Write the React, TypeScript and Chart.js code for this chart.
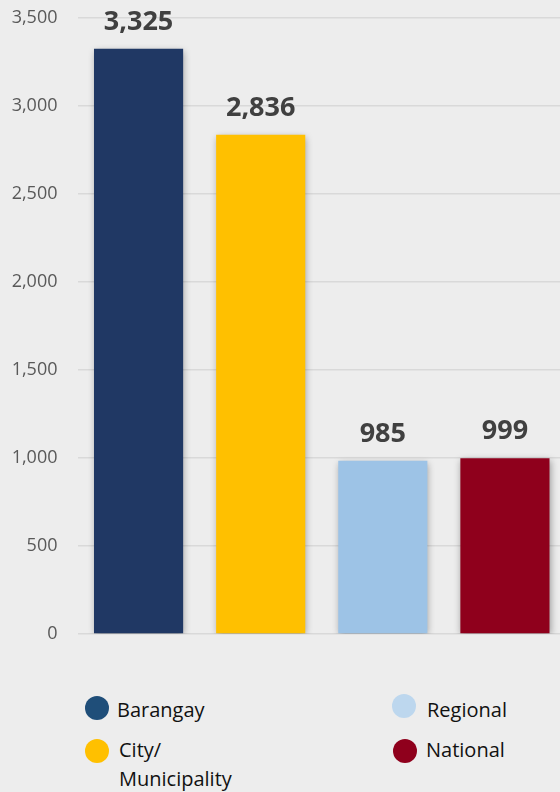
import React, { useEffect, useRef } from "react";
import { Chart, registerables } from "chart.js";

Chart.register(...registerables);

const categories = ["Barangay", "City/Municipality", "Regional", "National"];
const values = [3325, 2836, 985, 999];
const barColors = ["#203864", "#ffc000", "#9dc3e6", "#8f001c"];
const legendLabels = [["Barangay"], ["City/", "Municipality"], ["Regional"], ["National"]];
const legendColors = ["#1f4e79", "#ffc000", "#bdd7ee", "#8f001c"];
const yTicks = [0, 500, 1000, 1500, 2000, 2500, 3000, 3500];

const FONT = "'Open Sans', 'DejaVu Sans', sans-serif";

const shadowPlugin = {
  id: "barShadow",
  beforeDatasetDraw(chart: any) {
    const ctx = chart.ctx;
    ctx.save();
    ctx.shadowColor = "rgba(0,0,0,0.35)";
    ctx.shadowBlur = 7;
    ctx.shadowOffsetX = 1;
    ctx.shadowOffsetY = 2;
  },
  afterDatasetDraw(chart: any) {
    chart.ctx.restore();
  },
};

const labelPlugin = {
  id: "valueLabels",
  afterDatasetsDraw(chart: any) {
    const ctx = chart.ctx;
    const meta = chart.getDatasetMeta(0);
    ctx.save();
    ctx.font = `bold 27px ${FONT}`;
    ctx.fillStyle = "#404040";
    ctx.textAlign = "center";
    ctx.textBaseline = "alphabetic";
    meta.data.forEach((bar: any, i: number) => {
      const v = chart.data.datasets[0].data[i] as number;
      ctx.fillText(v.toLocaleString("en-US"), bar.x, bar.y - 19);
    });
    ctx.restore();
  },
};

export default function App() {
  const ref = useRef<HTMLCanvasElement>(null);
  useEffect(() => {
    if (!ref.current) return;
    const chart = new Chart(ref.current, {
      type: "bar",
      data: {
        labels: categories,
        datasets: [
          {
            data: values,
            backgroundColor: barColors,
            barPercentage: 0.73,
            categoryPercentage: 1,
            borderWidth: 0,
          },
        ],
      },
      options: {
        animation: false,
        responsive: false,
        layout: { padding: { top: 18, bottom: 26, left: 0, right: 0 } },
        plugins: { legend: { display: false }, tooltip: { enabled: false } },
        scales: {
          x: { display: false, grid: { display: false } },
          y: {
            min: 0,
            max: 3500,
            afterBuildTicks(scale: any) {
              scale.ticks = yTicks.map((v) => ({ value: v }));
            },
            afterFit(scale: any) {
              scale.width = 77.5;
              scale.paddingTop = 0;
              scale.paddingBottom = 0;
            },
            ticks: {
              color: "#595959",
              font: { family: FONT, size: 18 },
              padding: 20,
              callback: (v: any) => Number(v).toLocaleString("en-US"),
            },
            grid: { color: "#d9d9d9", lineWidth: 1.5, drawTicks: false },
            border: { display: false },
          },
        },
      },
      plugins: [shadowPlugin, labelPlugin],
    });
    return () => chart.destroy();
  }, []);

  const legendPos = [
    { cx: 97, cy: 708, tx: 117, ty: 717 },
    { cx: 97, cy: 751, tx: 119, ty: 757 },
    { cx: 404, cy: 706, tx: 427, ty: 717 },
    { cx: 405, cy: 751, tx: 426, ty: 757 },
  ];

  return (
    <div
      style={{
        position: "absolute",
        left: 0,
        top: 0,
        width: 560,
        height: 792,
        background: "#ededed",
        overflow: "hidden",
      }}
    >
      <canvas ref={ref} width={566} height={660} style={{ position: "absolute", left: 0, top: 0 }} />
      {legendLabels.map((lines, i) => {
        const p = legendPos[i];
        return (
          <React.Fragment key={i}>
            <div
              style={{
                position: "absolute",
                left: p.cx - 12,
                top: p.cy - 12,
                width: 24,
                height: 24,
                borderRadius: "50%",
                background: legendColors[i],
              }}
            />
            <div
              style={{
                position: "absolute",
                left: p.tx,
                top: p.ty - 22,
                fontFamily: FONT,
                fontSize: 20,
                lineHeight: "29px",
                color: "#111",
                whiteSpace: "nowrap",
              }}
            >
              {lines.map((l, j) => (
                <div key={j}>{l}</div>
              ))}
            </div>
          </React.Fragment>
        );
      })}
    </div>
  );
}
